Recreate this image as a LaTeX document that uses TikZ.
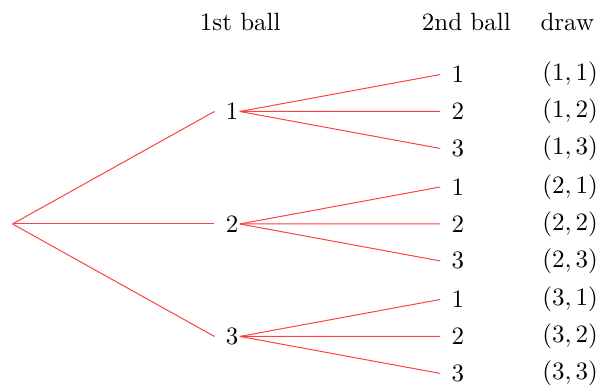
\documentclass[tikz,border=0pt]{standalone}
\begin{document}
\begin{tikzpicture}[
  grow'=right,
  level 1/.style={level distance=3.094cm, sibling distance=1.582cm},
  level 2/.style={level distance=3.176cm, sibling distance=0.52cm},
  edge from parent/.style={draw=red!75,-},
  edge from parent path={([xshift=-2.9pt]\tikzparentnode.east) -- ([xshift=-1pt]\tikzchildnode.west)}
]
\useasboundingbox (-0.169,-2.264) rectangle (8.298,3.15);
\node[inner sep=0pt, inner xsep=2.9pt] (root) {}
  child { node (b1) {1}
    child { node (b11) {1} }
    child { node (b12) {2} }
    child { node (b13) {3} }
  }
  child { node (b2) {2}
    child { node (b21) {1} }
    child { node (b22) {2} }
    child { node (b23) {3} }
  }
  child { node (b3) {3}
    child { node (b31) {1} }
    child { node (b32) {2} }
    child { node (b33) {3} }
  };
% column heads
\node at (3.21,2.84) {1st ball};
\node at (6.39,2.84) {2nd ball};
\node at (7.81,2.84) {draw};
% outcomes
\foreach \i in {1,2,3}
  \foreach \j in {1,2,3}
    \node at (b\i\j -| 7.85,0) {$(\i,\j)$};
\end{tikzpicture}
\end{document}
